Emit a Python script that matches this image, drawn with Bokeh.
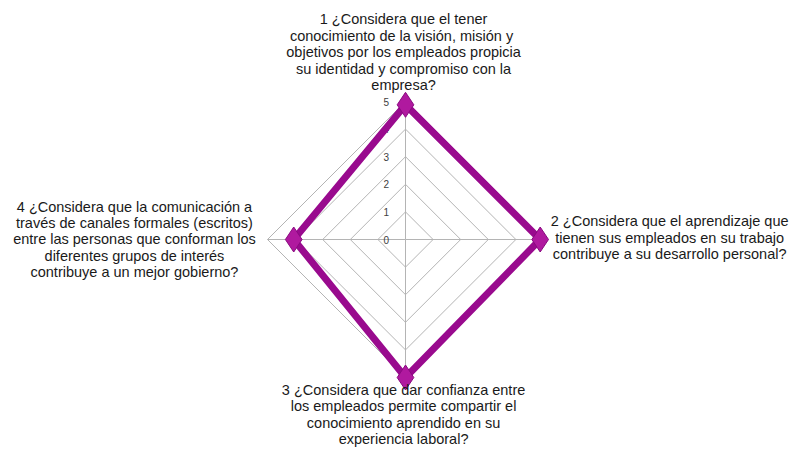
import numpy as np
from bokeh.plotting import figure
from bokeh.embed import file_html
from bokeh.resources import INLINE
from bokeh.core.properties import value

categories = [
    "1 ¿Considera que el tener\nconocimiento de  la visión, misión y\nobjetivos por los empleados propicia\nsu identidad y compromiso con la\nempresa?",
    "2 ¿Considera que el aprendizaje que\ntienen sus empleados en su trabajo\ncontribuye a su desarrollo personal?",
    "3 ¿Considera que dar confianza entre\nlos empleados permite compartir el\nconocimiento aprendido en su\nexperiencia laboral?",
    "4 ¿Considera que la comunicación a\ntravés de canales formales (escritos)\nentre las personas que conforman los\ndiferentes grupos de interés\ncontribuye a un mejor gobierno?",
]
values = [4.88, 4.88, 5.0, 4.05]
ticks = [0, 1, 2, 3, 4, 5]
tick_labels = ["0", "1", "2", "3", "4", "5"]

scale = 27.6
W, H = 792, 449
cx, cy = 405, 239
p = figure(width=W, height=H, output_backend="svg", toolbar_location=None,
           x_range=(-cx / scale, (W - cx) / scale),
           y_range=(-(H - cy) / scale, cy / scale),
           min_border=0)
p.axis.visible = False
p.grid.visible = False
p.outline_line_color = None
p.background_fill_color = "white"

n = len(categories)
angles = np.pi / 2 - np.arange(n) * 2 * np.pi / n
ux, uy = np.cos(angles), np.sin(angles)

grid_col = "#b4b4b4"
for r in ticks[1:]:
    xs = list(r * ux) + [r * ux[0]]
    ys = list(r * uy) + [r * uy[0]]
    p.line(xs, ys, line_color=grid_col, line_width=1)
for i in range(n):
    p.line([0, ticks[-1] * ux[i]], [0, ticks[-1] * uy[i]], line_color=grid_col, line_width=1)

# tick labels
p.text(x=[-0.7] * len(ticks), y=[t * 1.0 for t in ticks], text=tick_labels,
       text_font=value("Liberation Sans"), text_font_size="10px", text_color="#404040",
       text_align="center", text_baseline="middle")

vals = np.array(values)
sx = list(vals * ux) + [vals[0] * ux[0]]
sy = list(vals * uy) + [vals[0] * uy[0]]
p.line(sx, sy, line_color="#990a8e", line_width=7, line_join="miter")
p.scatter(vals * ux, vals * uy, marker="diamond", size=25,
          fill_color="#b0199f", line_color="#8a0a80", line_width=1)

lab_x = [-0.07, 9.57, -0.07, -9.82]
lab_y = [6.78, 0.07, -6.34, 0.0]
p.text(x=lab_x, y=lab_y, text=categories, text_font=value("Liberation Sans"),
       text_font_size="14.5px", text_color="#1a1a1a", text_align="center",
       text_baseline="middle", text_line_height=1.03)

open("out.html", "w").write(file_html(p, INLINE))
